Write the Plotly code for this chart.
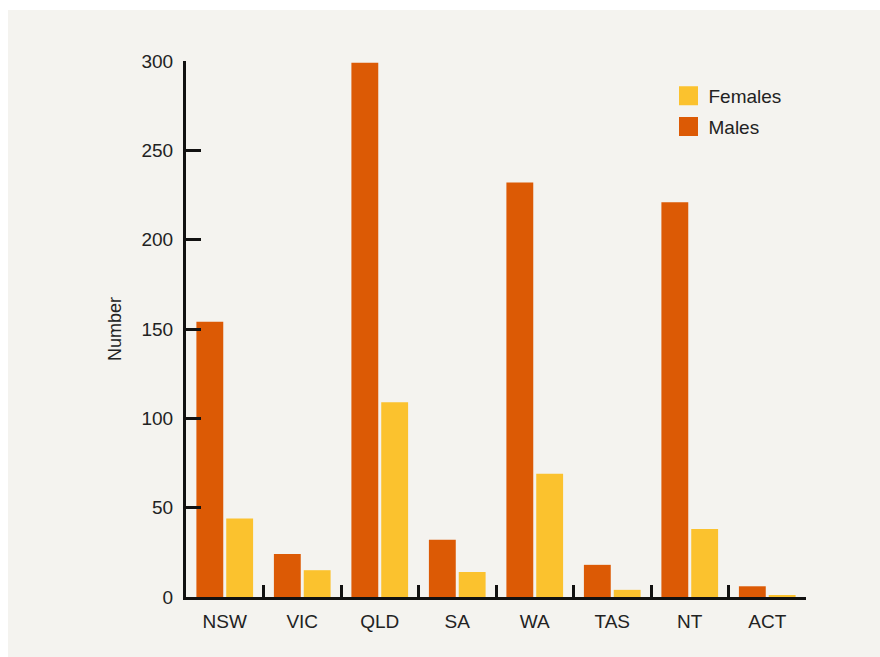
import plotly.graph_objects as go

states = ["NSW", "VIC", "QLD", "SA", "WA", "TAS", "NT", "ACT"]
males = [154, 24, 299, 32, 232, 18, 221, 6]
females = [44, 15, 109, 14, 69, 4, 38, 1]
y_ticks = [0, 50, 100, 150, 200, 250, 300]

MALE_C = "#dc5a05"
FEMALE_C = "#fbc22e"
PANEL = "#f4f3ef"
FONT = "Liberation Sans"

# figure slightly larger than the window so the panel colour reaches the edges
W, H = 910, 690
L, T = 186, 61
R, B = W - 806, H - 597
pw, ph = W - L - R, H - T - B
px = lambda v: (v - L) / pw          # page x pixel -> paper x
py = lambda v: (H - B - v) / ph      # page y pixel -> paper y

fig = go.Figure()
fig.add_trace(go.Bar(x=states, y=males, name="Males", marker=dict(color=MALE_C, line=dict(width=0)), showlegend=False))
fig.add_trace(go.Bar(x=states, y=females, name="Females", marker=dict(color=FEMALE_C, line=dict(width=0)), showlegend=False))

# legend entries
fig.add_trace(go.Scatter(x=[None], y=[None], mode="markers", name="Females", legendgroup="f",
                         marker=dict(symbol="square", size=16, color=FEMALE_C, line=dict(color=FEMALE_C, width=3))))
fig.add_trace(go.Scatter(x=[None], y=[None], mode="markers", name="Males", legendgroup="m",
                         marker=dict(symbol="square", size=16, color=MALE_C, line=dict(color=MALE_C, width=3))))

# thin white strips at top and left of the panel
fig.add_shape(type="rect", xref="paper", yref="paper", layer="below",
              x0=px(-5), x1=px(8), y0=py(H + 5), y1=py(-5), fillcolor="white", line=dict(width=0))
fig.add_shape(type="rect", xref="paper", yref="paper", layer="below",
              x0=px(-5), x1=px(W + 5), y0=py(10), y1=py(-5), fillcolor="white", line=dict(width=0))

fig.update_layout(
    width=W, height=H,
    margin=dict(l=L, r=R, t=T, b=B, autoexpand=False),
    paper_bgcolor=PANEL, plot_bgcolor=PANEL,
    font=dict(family=FONT, size=19, color="#222222"),
    barmode="group", bargap=0.23, bargroupgap=0.1,
    legend=dict(x=px(668.5), y=py(77), xanchor="left", yanchor="top",
                bgcolor="rgba(0,0,0,0)", tracegroupgap=3, font=dict(size=19, color="#222222")),
    xaxis=dict(type="category", showline=True, linecolor="#111111", linewidth=3,
               ticks="inside", tickson="boundaries", ticklen=12, tickwidth=3, tickcolor="#111111",
               showgrid=False, zeroline=False, fixedrange=True, ticklabelstandoff=5),
    yaxis=dict(range=[0, 300], tickvals=y_ticks, showline=True, linecolor="#111111", linewidth=3,
               ticks="inside", ticklen=15, tickwidth=3, tickcolor="#111111",
               showgrid=False, zeroline=False, fixedrange=True, ticklabelstandoff=6,
               title=dict(text="Number", font=dict(size=18), standoff=16)),
)

fig.write_html("out.html", config={"displayModeBar": False},
               post_script="document.body.style.margin='0';document.documentElement.style.overflow='hidden';")
